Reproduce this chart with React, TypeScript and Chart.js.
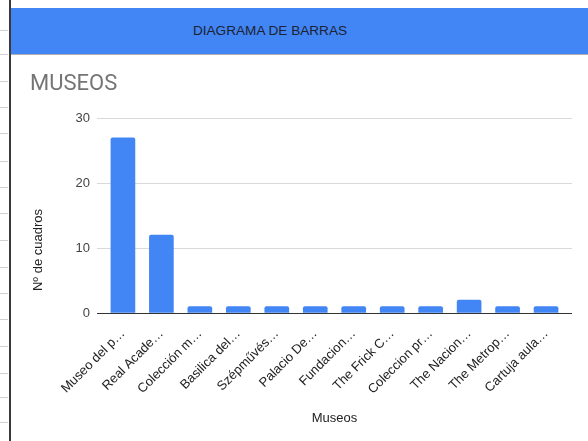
import React, { useEffect, useRef } from "react";
import { Chart, registerables } from "chart.js";

Chart.register(...registerables);

const headerTitle = "DIAGRAMA DE BARRAS";
const chartTitle = "MUSEOS";
const xTitle = "Museos";
const yTitle = "Nº de cuadros";

const categories = [
  "Museo del p…",
  "Real Acade…",
  "Colección m…",
  "Basilica del…",
  "Szépművés…",
  "Palacio De…",
  "Fundacion…",
  "The Frick C…",
  "Coleccion pr…",
  "The Nacion…",
  "The Metrop…",
  "Cartuja aula…",
];
const cuadros = [27, 12, 1, 1, 1, 1, 1, 1, 1, 2, 1, 1];
const yMin = 0;
const yMax = 30;
const yStep = 10;

const FONT = "'Liberation Sans', Arial, sans-serif";
const TITLE_FONT = "Roboto, 'Liberation Sans', Arial, sans-serif";
const rowLines = [30, 54, 81, 107, 133, 161, 187, 213, 240, 267, 293, 319, 346, 373, 397, 422];

export default function App() {
  const ref = useRef<HTMLCanvasElement | null>(null);

  useEffect(() => {
    if (!ref.current) return;
    const yTitlePlugin = {
      id: "yTitleCustom",
      afterDraw(chart: any) {
        const ctx = chart.ctx;
        ctx.save();
        ctx.translate(27, 195);
        ctx.rotate(-Math.PI / 2);
        ctx.font = `13px ${FONT}`;
        ctx.fillStyle = "#222";
        ctx.textAlign = "center";
        ctx.textBaseline = "middle";
        ctx.fillText(yTitle, 0, 0);
        ctx.restore();
      },
    };
    const pad = 0.674;
    const chart = new Chart(ref.current, {
      type: "bar",
      data: {
        datasets: [
          {
            data: cuadros.map((v, i) => ({ x: i, y: v })),
            backgroundColor: "#4285f4",
            borderRadius: 2,
            borderSkipped: "bottom",
            barThickness: 24,
          },
        ],
      },
      options: {
        responsive: false,
        animation: false,
        devicePixelRatio: 1,
        layout: { padding: { left: 19, right: 15, top: 0, bottom: 0 } },
        plugins: {
          legend: { display: false },
          tooltip: { enabled: false },
          title: {
            display: true,
            text: chartTitle,
            align: "start",
            color: "#757575",
            font: { family: TITLE_FONT, size: 22, weight: "normal" },
            padding: { top: 16, bottom: 21 },
          },
        },
        scales: {
          x: {
            type: "linear",
            offset: false,
            min: -pad,
            max: categories.length - 1 + pad,
            grid: { display: false },
            border: { display: true, color: "#333", width: 1 },
            ticks: {
              stepSize: 1,
              autoSkip: false,
              minRotation: 45,
              maxRotation: 45,
              padding: 5,
              color: "#222",
              font: { family: FONT, size: 13 },
              callback: (v: any) =>
                Number.isInteger(v) && categories[v] !== undefined ? categories[v] : "",
            },
            title: {
              display: true,
              text: xTitle,
              color: "#222",
              font: { family: FONT, size: 13 },
              padding: { top: 0, bottom: 15 },
            },
            afterFit: (s: any) => {
              s.height = 128;
            },
          },
          y: {
            min: yMin,
            max: yMax,
            border: { display: false },
            grid: {
              drawTicks: false,
              color: (c: any) => (c.tick && c.tick.value === 0 ? "rgba(0,0,0,0)" : "#d9d9d9"),
            },
            ticks: {
              stepSize: yStep,
              padding: 7,
              color: "#444",
              font: { family: FONT, size: 13 },
            },
            afterFit: (s: any) => {
              s.width = 67;
            },
          },
        },
      },
      plugins: [yTitlePlugin],
    } as any);
    return () => chart.destroy();
  }, []);

  return (
    <div
      style={{
        position: "fixed",
        left: 0,
        top: 0,
        width: 588,
        height: 441,
        background: "#fff",
        overflow: "hidden",
      }}
    >
      {rowLines.map((y) => (
        <div
          key={y}
          style={{ position: "absolute", left: 0, top: y, width: 8, height: 1, background: "#d0d0d0" }}
        />
      ))}
      <div style={{ position: "absolute", left: 9, top: 0, width: 2, height: 441, background: "#3a3a3a" }} />
      <div
        style={{
          position: "absolute",
          left: 11,
          top: 8,
          width: 577,
          height: 46,
          background: "#4285f4",
          borderBottom: "1px solid #b0b0b0",
        }}
      >
        <div
          style={{
            position: "absolute",
            left: 259 - 100,
            top: 0,
            width: 200,
            height: 46,
            lineHeight: "46px",
            textAlign: "center",
            fontFamily: FONT,
            fontSize: 13.6,
            color: "#1c2333",
            whiteSpace: "nowrap",
          }}
        >
          {headerTitle}
        </div>
      </div>
      <canvas
        ref={ref}
        width={577}
        height={386}
        style={{ position: "absolute", left: 11, top: 55, width: 577, height: 386 }}
      />
    </div>
  );
}
